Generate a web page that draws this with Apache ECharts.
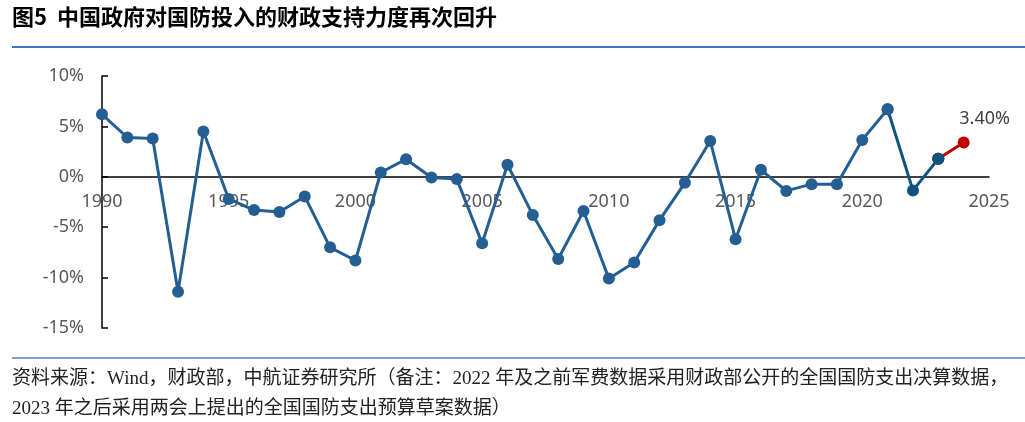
<!DOCTYPE html>
<html><head><meta charset="utf-8">
<script src="https://cdn.jsdelivr.net/npm/echarts@6/dist/echarts.min.js"></script>
<style>html,body{margin:0;padding:0;background:#fff}#c{width:1025px;height:422px}</style>
</head><body><div id="c"></div>
<script>
const years = [1990,1991,1992,1993,1994,1995,1996,1997,1998,1999,2000,2001,2002,2003,2004,2005,2006,2007,2008,2009,2010,2011,2012,2013,2014,2015,2016,2017,2018,2019,2020,2021,2022,2023,2024];
const values = [6.2,3.9,3.8,-11.4,4.5,-2.2,-3.3,-3.5,-1.95,-7.0,-8.3,0.43,1.75,-0.07,-0.23,-6.6,1.2,-3.8,-8.15,-3.4,-10.1,-8.5,-4.3,-0.6,3.56,-6.2,0.7,-1.4,-0.73,-0.73,3.66,6.7,-1.35,1.78,3.4];
const yMin = -15, yMax = 10, yStep = 5;
const xMin = 1990, xMax = 2025, xStep = 5;
const title = '图5  中国政府对国防投入的财政支持力度再次回升';
const note1 = '资料来源：Wind，财政部，中航证券研究所（备注：2022 年及之前军费数据采用财政部公开的全国国防支出决算数据，';
const note2 = '2023 年之后采用两会上提出的全国国防支出预算草案数据）';

const pairs = years.map((y,i)=>[y,values[i]]);
const iA = years.indexOf(2021), iB = years.indexOf(2023);
const mainData = pairs.slice(0, iA+1);
const darkData = pairs.slice(iA, iB+1);
const redData = pairs.slice(iB);

const gridTop = 76, gridH = 252;
const zeroOffset = -gridH * (0 - yMin) / (yMax - yMin);

const chart = echarts.init(document.getElementById('c'));
chart.setOption({
  animation:false,
  grid:{left:102,right:36,top:gridTop,height:gridH},
  xAxis:{type:'value',min:xMin,max:xMax,interval:xStep,position:'bottom',offset:zeroOffset,
    axisLine:{onZero:false,lineStyle:{color:'#000',width:1.5}},
    axisTick:{show:false},splitLine:{show:false},
    axisLabel:{color:'#595959',fontSize:18,margin:16,fontFamily:'Noto Sans',formatter:v=>String(v)}},
  yAxis:{type:'value',min:yMin,max:yMax,interval:yStep,
    axisLine:{show:true,lineStyle:{color:'#000',width:1.5}},
    axisTick:{show:true,inside:true,length:6,lineStyle:{color:'#000',width:1.5}},
    splitLine:{show:false},
    axisLabel:{color:'#595959',fontSize:18,margin:18,fontFamily:'Noto Sans',formatter:'{value}%'}},
  series:[
    {type:'line',data:darkData,z:2,symbol:'circle',symbolSize:12,
      lineStyle:{color:'#0F527D',width:3},itemStyle:{color:'#0F527D'}},
    {type:'line',data:redData,z:2,symbol:'circle',symbolSize:12,showAllSymbol:true,
      lineStyle:{color:'#C00000',width:3},itemStyle:{color:'#C00000'},
      label:{show:true,position:'top',distance:9,offset:[21,0],color:'#404040',fontSize:18,fontFamily:'Noto Sans',
        formatter:p=>p.dataIndex===redData.length-1? p.value[1].toFixed(2)+'%':''}},
    {type:'line',data:mainData,z:3,symbol:'circle',symbolSize:12,showAllSymbol:true,
      lineStyle:{color:'#255E91',width:3},itemStyle:{color:'#255E91'}},
    {type:'line',data:[darkData[darkData.length-1]],z:4,symbol:'circle',symbolSize:12,
      itemStyle:{color:'#0F527D'}}
  ],
  graphic:[
    {type:'text',left:12,top:6,style:{text:title,font:'bold 22px "Noto Sans CJK SC"',fill:'#000'}},
    {type:'rect',shape:{x:12,y:46,width:1013,height:2},style:{fill:'#4472C4'}},
    {type:'rect',shape:{x:12,y:357,width:1013,height:2},style:{fill:'#7F9FD4'}},
    {type:'text',left:12,top:370,style:{text:note1,font:'19px "Liberation Serif","Noto Sans CJK SC"',fill:'#222'}},
    {type:'text',left:12,top:400,style:{text:note2,font:'19px "Liberation Serif","Noto Sans CJK SC"',fill:'#222'}}
  ]
});
</script></body></html>
